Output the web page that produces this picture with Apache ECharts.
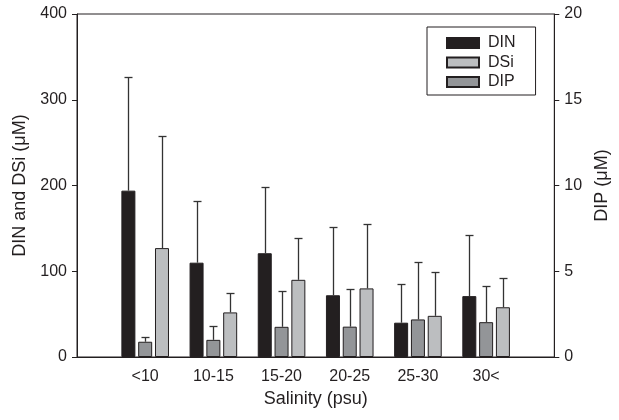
<!DOCTYPE html>
<html>
<head>
<meta charset="utf-8">
<script src="https://cdn.jsdelivr.net/npm/echarts@6/dist/echarts.min.js"></script>
<style>
html,body{margin:0;padding:0;background:#fff;}
#chart{width:619px;height:420px;}
</style>
</head>
<body>
<div id="chart"></div>
<script>
// Data
const categories = ['<10', '10-15', '15-20', '20-25', '25-30', '30<'];
const dinMean = [194, 110, 121, 72, 40, 71];
const dinSD   = [133, 72, 77, 80, 45, 71];
const dsiMean = [127, 52, 90, 80, 48, 58];
const dsiSD   = [131, 23, 49, 75, 51, 34];
const dipMean = [0.89, 1.0, 1.76, 1.77, 2.19, 2.03];
const dipSD   = [0.25, 0.82, 2.06, 2.2, 3.35, 2.12];
const leftTicks = [0, 100, 200, 300, 400];
const rightTicks = [0, 5, 10, 15, 20];

// pad the category axis with blank slots at both ends
const axisCats = [''].concat(categories, ['']);
const pad = arr => [null].concat(arr, [null]);

const ink = '#231f20';
const barW = 14;
const gapPct = 0.2;
const step = barW * (1 + gapPct);

function errSeries(name, mean, sd, yAxisIndex, offset) {
  const data = mean.map((m, i) => [i + 1, m, m + sd[i]]);
  return {
    type: 'custom',
    name: name,
    xAxisIndex: 0,
    yAxisIndex: yAxisIndex,
    z: 5,
    silent: true,
    data: data,
    renderItem: function (params, api) {
      const xv = api.value(0);
      const x = Math.round(api.coord([xv, 0])[0] + offset) + 0.5;
      const yb = api.coord([xv, api.value(1)])[1];
      const yt = Math.round(api.coord([xv, api.value(2)])[1]) + 0.5;
      const st = { stroke: '#333333', lineWidth: 1.3 };
      return {
        type: 'group',
        children: [
          { type: 'line', shape: { x1: x, y1: yb, x2: x, y2: yt }, style: st },
          { type: 'line', shape: { x1: x - 4, y1: yt, x2: x + 4, y2: yt }, style: st }
        ]
      };
    }
  };
}

const chart = echarts.init(document.getElementById('chart'), null, { renderer: 'canvas' });
const font = 'Liberation Sans, Arial, sans-serif';

chart.setOption({
  animation: false,
  textStyle: { fontFamily: font, color: ink },
  grid: {
    left: 77, right: 63, top: 14, bottom: 63,
    show: true, borderColor: ink, borderWidth: 1, backgroundColor: 'transparent'
  },
  legend: {
    data: ['DIN', 'DSi', 'DIP'],
    orient: 'vertical',
    left: 427, top: 27,
    padding: [8, 20, 5, 19],
    itemWidth: 32, itemHeight: 10, itemGap: 3.5,
    borderColor: ink, borderWidth: 1,
    icon: 'rect',
    selectedMode: false,
    textStyle: { fontSize: 16, color: ink, lineHeight: 16, padding: [0, 0, 0, 4], fontFamily: font }
  },
  xAxis: {
    type: 'category',
    data: axisCats,
    boundaryGap: false,
    axisLine: { show: true, lineStyle: { color: ink, width: 1 } },
    axisTick: { show: false },
    axisLabel: { interval: 0, fontSize: 16, color: ink, margin: 12, fontFamily: font },
    name: 'Salinity (psu)',
    nameLocation: 'middle',
    nameGap: 32,
    nameTextStyle: { fontSize: 18, color: ink, fontFamily: font },
    splitLine: { show: false }
  },
  yAxis: [
    {
      type: 'value', min: leftTicks[0], max: leftTicks[leftTicks.length - 1], interval: 100,
      position: 'left',
      axisLine: { show: true, lineStyle: { color: ink, width: 1 } },
      axisTick: { show: true, inside: false, length: 5, lineStyle: { color: ink } },
      axisLabel: { fontSize: 16, color: ink, margin: 10, fontFamily: font },
      splitLine: { show: false },
      name: 'DIN and DSi (μM)',
      nameLocation: 'middle',
      nameRotate: 90,
      nameGap: 48,
      nameTextStyle: { fontSize: 18, color: ink, fontFamily: font }
    },
    {
      type: 'value', min: rightTicks[0], max: rightTicks[rightTicks.length - 1], interval: 5,
      position: 'right',
      axisLine: { show: true, lineStyle: { color: ink, width: 1 } },
      axisTick: { show: true, inside: false, length: 5, lineStyle: { color: ink } },
      axisLabel: { fontSize: 16, color: ink, margin: 10, fontFamily: font },
      splitLine: { show: false },
      name: 'DIP (μM)',
      nameLocation: 'middle',
      nameRotate: 90,
      nameGap: 28,
      nameTextStyle: { fontSize: 18, color: ink, fontFamily: font }
    }
  ],
  series: [
    {
      type: 'bar', name: 'DIN', yAxisIndex: 0, data: pad(dinMean),
      barWidth: barW, barGap: (gapPct * 100) + '%',
      itemStyle: { color: ink, borderColor: ink, borderWidth: 1 }
    },
    {
      type: 'bar', name: 'DIP', yAxisIndex: 1, data: pad(dipMean),
      barWidth: barW, barGap: (gapPct * 100) + '%',
      itemStyle: { color: '#939598', borderColor: ink, borderWidth: 1 }
    },
    {
      type: 'bar', name: 'DSi', yAxisIndex: 0, data: pad(dsiMean),
      barWidth: barW, barGap: (gapPct * 100) + '%',
      itemStyle: { color: '#bcbec0', borderColor: ink, borderWidth: 1 }
    },
    errSeries('DIN err', dinMean, dinSD, 0, -step),
    errSeries('DIP err', dipMean, dipSD, 1, 0),
    errSeries('DSi err', dsiMean, dsiSD, 0, step)
  ]
});
</script>
</body>
</html>
